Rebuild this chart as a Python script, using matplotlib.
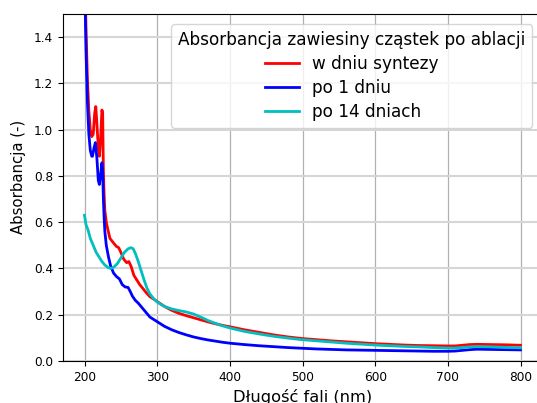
import numpy as np
import matplotlib.pyplot as plt

# widma absorpcji zawiesiny (dlugosc fali w nm, absorbancja)
wl_syn = [200, 202, 204, 206, 208, 210, 212, 214, 215.5, 217, 219, 220.5, 222, 224, 225,
          226, 227, 228, 230, 232, 235, 240, 244, 247, 250, 254, 258, 261, 264, 268,
          272, 276, 280, 285, 290, 295, 300, 310, 320, 330, 340, 350, 360, 370, 380,
          390, 400, 420, 440, 460, 480, 500, 520, 540, 560, 580, 600, 620, 640, 660,
          680, 700, 710, 720, 730, 740, 760, 780, 800]
abs_syn = [1.75, 1.45, 1.22, 1.08, 1.0, 0.97, 0.98, 1.07, 1.10, 1.03, 0.92, 0.885, 0.95, 1.085, 1.07,
           0.82, 0.72, 0.65, 0.60, 0.57, 0.53, 0.51, 0.495, 0.49, 0.47, 0.44, 0.425, 0.43, 0.41, 0.37,
           0.35, 0.33, 0.315, 0.295, 0.278, 0.268, 0.257, 0.236, 0.219, 0.206, 0.196, 0.187, 0.178, 0.169, 0.161,
           0.154, 0.148, 0.135, 0.124, 0.113, 0.104, 0.097, 0.092, 0.087, 0.083, 0.079, 0.075, 0.072, 0.069, 0.067,
           0.066, 0.065, 0.065, 0.068, 0.071, 0.072, 0.071, 0.070, 0.068]

wl_1d = [200, 202, 204, 206, 208, 210, 211, 213, 215, 217, 219, 220.5, 222, 224, 225,
         226, 227, 228, 230, 233, 236, 240, 244, 248, 252, 256, 260, 263, 266, 270,
         274, 278, 282, 286, 290, 295, 300, 310, 320, 330, 340, 350, 360, 370, 380,
         390, 400, 420, 440, 460, 480, 500, 520, 540, 560, 580, 600, 620, 640, 660,
         680, 700, 710, 720, 730, 740, 760, 780, 800]
abs_1d = [1.7, 1.35, 1.12, 0.98, 0.91, 0.885, 0.885, 0.92, 0.944, 0.88, 0.78, 0.763, 0.80, 0.857, 0.82,
          0.70, 0.62, 0.56, 0.50, 0.45, 0.41, 0.38, 0.365, 0.355, 0.33, 0.32, 0.318, 0.30, 0.28, 0.262,
          0.25, 0.235, 0.22, 0.205, 0.19, 0.18, 0.17, 0.15, 0.135, 0.123, 0.113, 0.104, 0.097, 0.091, 0.086,
          0.081, 0.077, 0.071, 0.066, 0.062, 0.058, 0.055, 0.052, 0.050, 0.048, 0.047, 0.046, 0.045, 0.044, 0.043,
          0.042, 0.042, 0.043, 0.046, 0.049, 0.051, 0.050, 0.049, 0.048]

wl_14d = [200, 202, 205, 208, 212, 216, 220, 224, 228, 232, 236, 240, 245, 250, 255,
          260, 264, 267, 270, 274, 278, 282, 286, 290, 295, 300, 305, 310, 320, 330,
          340, 350, 360, 370, 380, 390, 400, 420, 440, 460, 480, 500, 520, 540, 560,
          580, 600, 620, 640, 660, 680, 700, 710, 720, 730, 740, 760, 780, 800]
abs_14d = [0.63, 0.59, 0.565, 0.53, 0.50, 0.47, 0.45, 0.43, 0.415, 0.405, 0.40, 0.405, 0.42, 0.445, 0.47,
           0.485, 0.49, 0.485, 0.465, 0.43, 0.39, 0.35, 0.315, 0.29, 0.27, 0.255, 0.245, 0.236, 0.225, 0.218,
           0.212, 0.203, 0.19, 0.175, 0.163, 0.152, 0.143, 0.128, 0.117, 0.107, 0.099, 0.092, 0.087, 0.082, 0.077,
           0.073, 0.069, 0.066, 0.063, 0.061, 0.058, 0.056, 0.056, 0.058, 0.061, 0.062, 0.061, 0.059, 0.057]

fig = plt.figure(figsize=(5.37, 4.03), dpi=100)
ax = fig.add_axes([62.7 / 537, 42 / 403, 479.6 / 537, 347 / 403])

ax.plot(wl_syn, abs_syn, color='r', linewidth=2, label='w dniu syntezy')
ax.plot(wl_1d, abs_1d, color='b', linewidth=2, label='po 1 dniu')
ax.plot(wl_14d, abs_14d, color='c', linewidth=2, label='po 14 dniach')

ax.set_ylim(0, 1.5)
ax.set_xlim(170, 830)
ax.set_xticks([200, 300, 400, 500, 600, 700, 800])
ax.grid(axis='x', color='#b0b0b0', linewidth=0.9)
ax.grid(axis='y', color='#d6d6d6', linewidth=1.5)
ax.tick_params(labelsize=8.7)

ax.set_xlabel('Długość fali (nm)', fontsize=11.7)
ax.set_ylabel('Absorbancja (-)', fontsize=10.7)
ax.yaxis.set_label_coords(-0.076, 0.53)
ax.legend(title='Absorbancja zawiesiny cząstek po ablacji', loc='upper right',
          fontsize=12.2, title_fontsize=12.2, borderaxespad=0.6, labelspacing=0.35)

plt.savefig('out.png', dpi=100)
